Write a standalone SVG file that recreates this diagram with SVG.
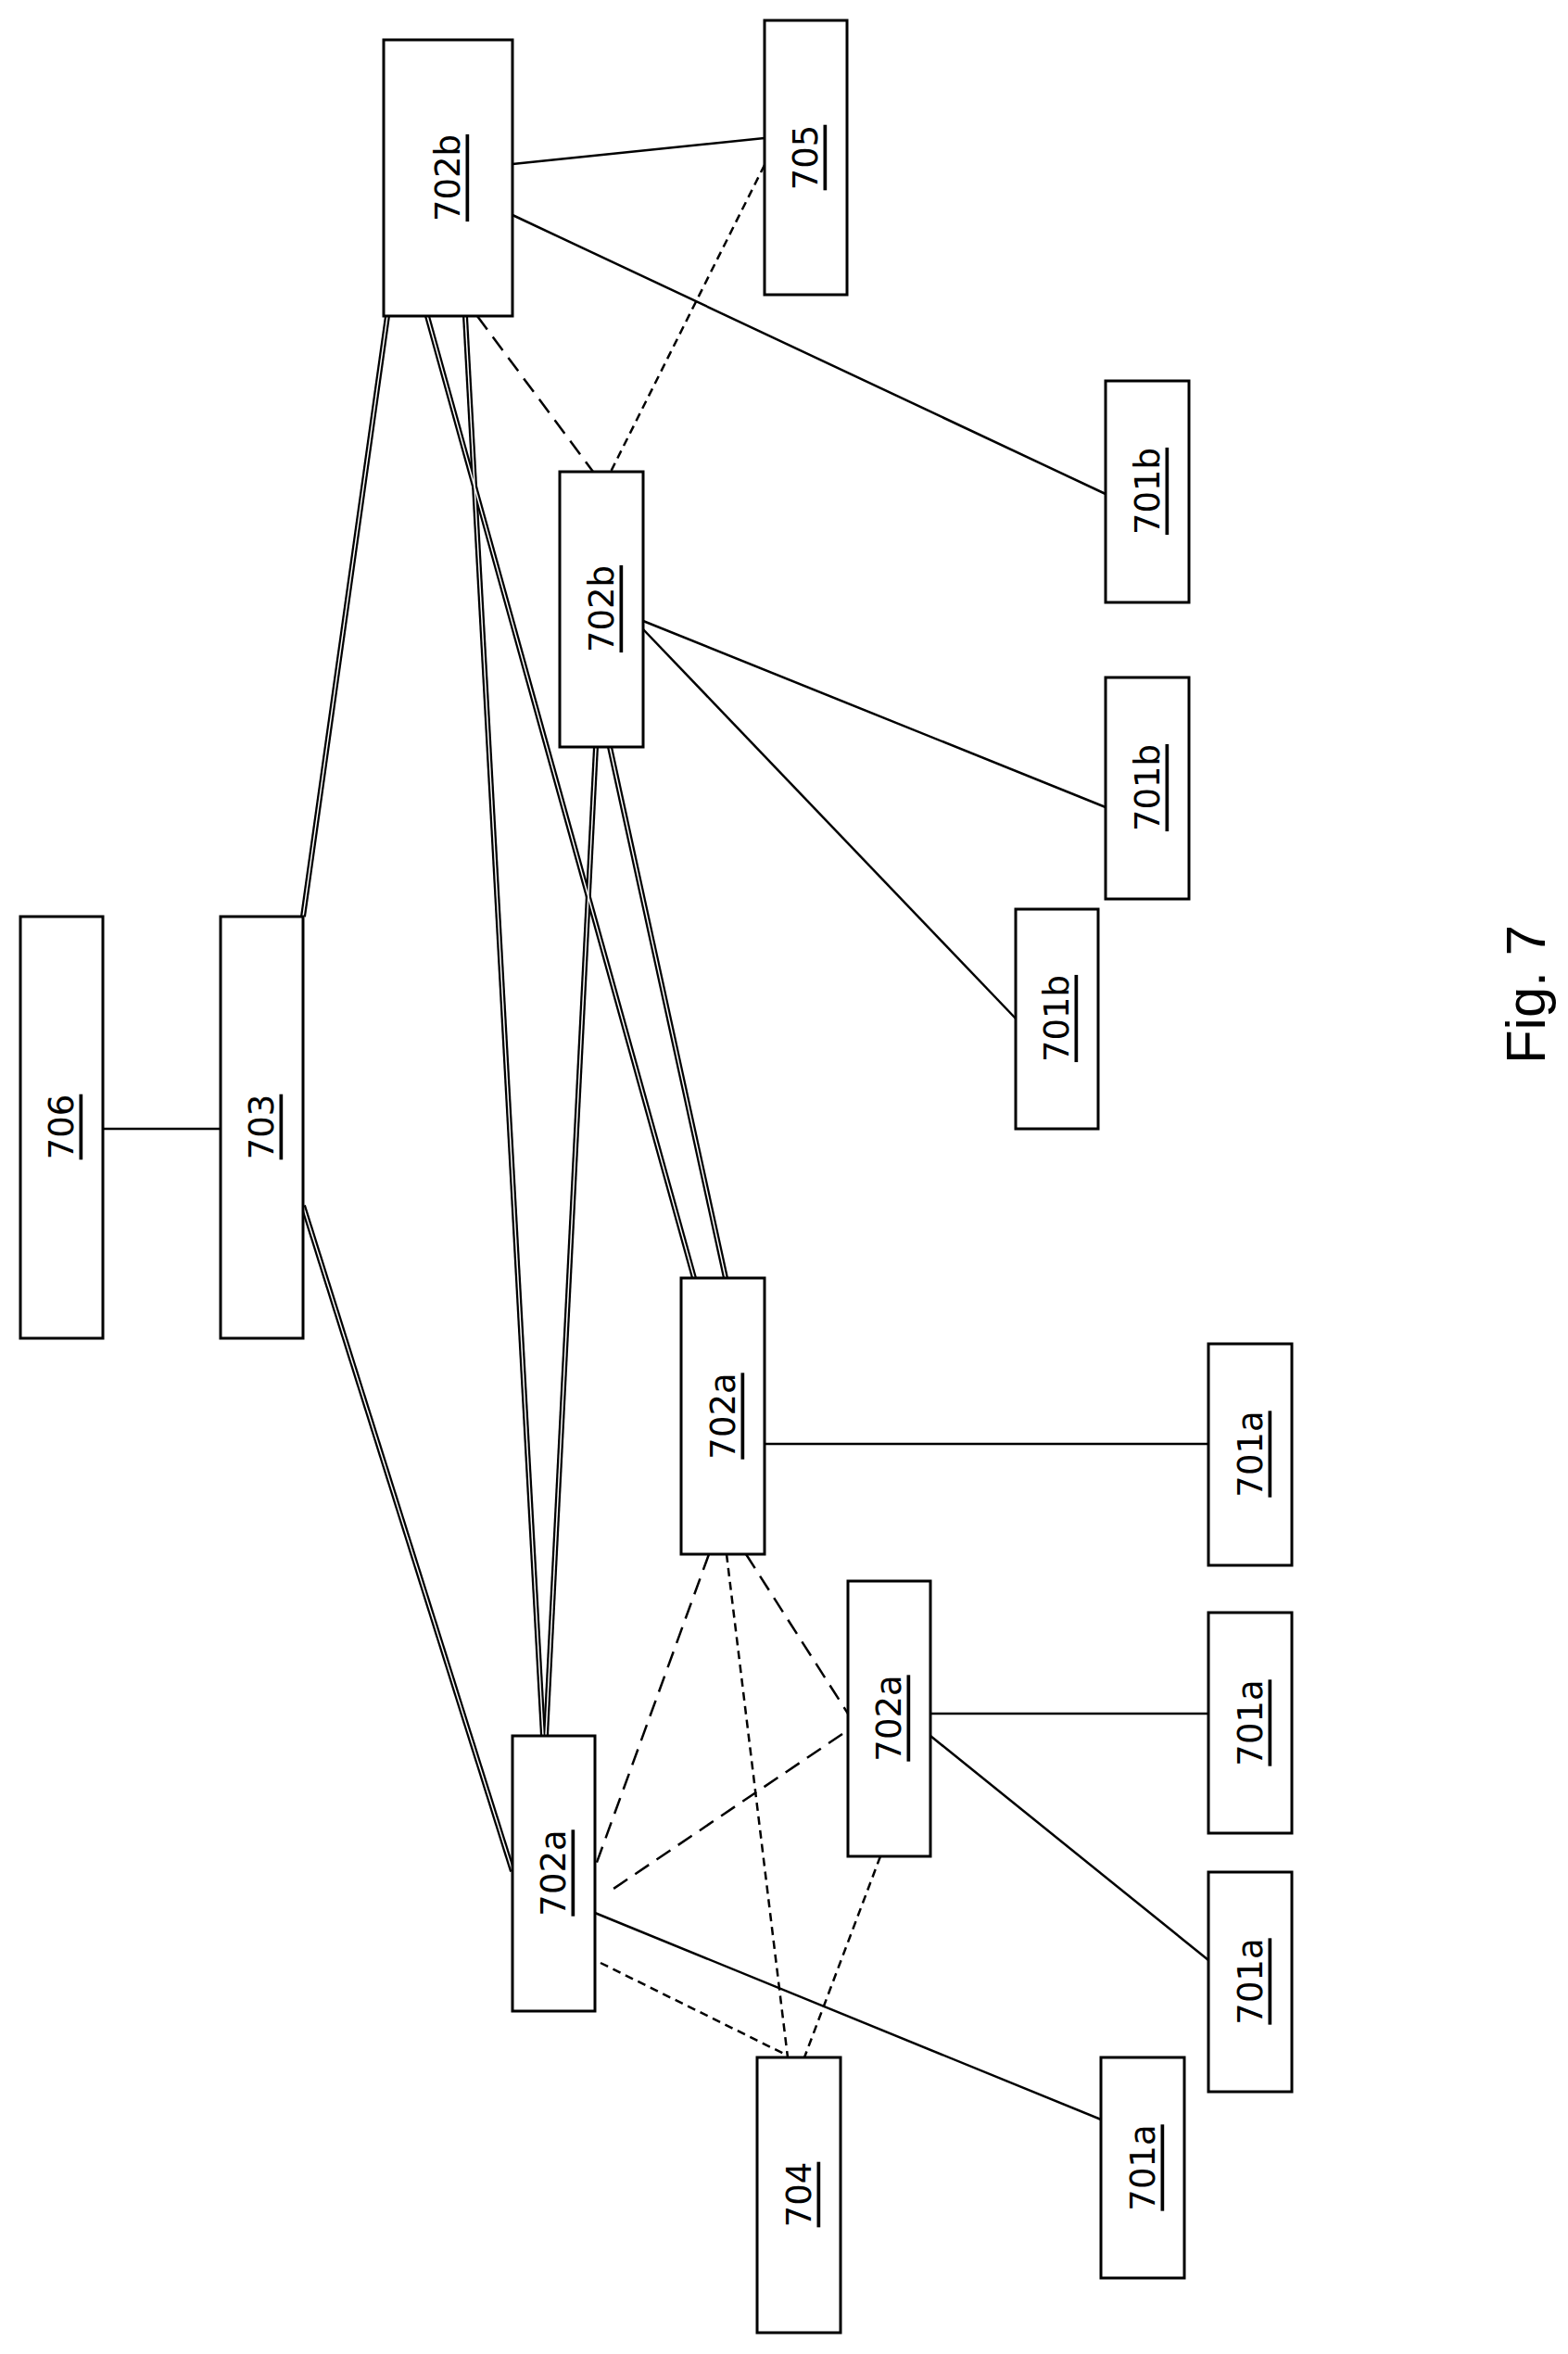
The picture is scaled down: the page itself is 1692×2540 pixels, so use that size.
<svg xmlns="http://www.w3.org/2000/svg" width="1692" height="2540" viewBox="0 0 1692 2540">
<style>
.b{fill:#fff;stroke:#000;stroke-width:3}
.t{font-family:"DejaVu Sans",sans-serif;font-size:37px;text-decoration:underline;text-anchor:middle;dominant-baseline:central}
.s{stroke:#000;stroke-width:2.5;fill:none}
.ld{stroke:#000;stroke-width:2.5;stroke-dasharray:18 10;fill:none}
.sd{stroke:#000;stroke-width:2.5;stroke-dasharray:9 6;fill:none}
.d1{stroke:#000;stroke-width:6;fill:none}
.d2{stroke:#fff;stroke-width:1.5;fill:none}
</style>
<rect width="1692" height="2540" fill="#fff"/>
<g id="connectors">
<line class="s" x1="111" y1="1218" x2="238" y2="1218"/>
<line class="s" x1="553" y1="177" x2="825" y2="149"/>
<line class="s" x1="553" y1="232" x2="1193" y2="533"/>
<line class="ld" x1="515" y1="341" x2="640" y2="509"/>
<line class="sd" x1="825" y1="178" x2="659" y2="509"/>
<line class="s" x1="694" y1="670" x2="1193" y2="871"/>
<line class="s" x1="694" y1="679" x2="1096" y2="1099"/>
<line class="s" x1="825" y1="1558" x2="1304" y2="1558"/>
<line class="s" x1="1004" y1="1849" x2="1304" y2="1849"/>
<line class="s" x1="1004" y1="1873" x2="1304" y2="2115"/>
<line class="s" x1="642" y1="2064" x2="1188" y2="2287"/>
<line class="ld" x1="765" y1="1677" x2="642" y2="2015"/>
<line class="ld" x1="805" y1="1677" x2="915" y2="1849"/>
<line class="sd" x1="784" y1="1677" x2="850" y2="2220"/>
<line class="ld" x1="909" y1="1871" x2="659" y2="2040"/>
<line class="sd" x1="950" y1="2003" x2="868" y2="2220"/>
<line class="sd" x1="648" y1="2118" x2="850" y2="2218"/>
<g class="d1">
<line x1="418" y1="341" x2="327" y2="989"/>
<line x1="327" y1="1301" x2="553" y2="2019"/>
<line x1="461" y1="341" x2="749" y2="1379"/>
<line x1="502" y1="341" x2="586" y2="1873"/>
<line x1="643" y1="806" x2="589" y2="1873"/>
<line x1="658" y1="806" x2="783" y2="1379"/>
</g>
<g class="d2">
<line x1="418" y1="341" x2="327" y2="989"/>
<line x1="327" y1="1301" x2="553" y2="2019"/>
<line x1="461" y1="341" x2="749" y2="1379"/>
<line x1="502" y1="341" x2="586" y2="1873"/>
<line x1="643" y1="806" x2="589" y2="1873"/>
<line x1="658" y1="806" x2="783" y2="1379"/>
</g>
</g>
<g id="n702b_1"><rect class="b" x="414" y="43" width="139" height="298"/><text class="t" transform="translate(483,192) rotate(-90)">702b</text></g>
<g id="n705"><rect class="b" x="825" y="22" width="89" height="296"/><text class="t" transform="translate(869,170) rotate(-90)">705</text></g>
<g id="n701b_1"><rect class="b" x="1193" y="411" width="90" height="239"/><text class="t" transform="translate(1238,530) rotate(-90)">701b</text></g>
<g id="n702b_2"><rect class="b" x="604" y="509" width="90" height="297"/><text class="t" transform="translate(649,657) rotate(-90)">702b</text></g>
<g id="n701b_2"><rect class="b" x="1193" y="731" width="90" height="239"/><text class="t" transform="translate(1238,850) rotate(-90)">701b</text></g>
<g id="n701b_3"><rect class="b" x="1096" y="981" width="89" height="237"/><text class="t" transform="translate(1140,1099) rotate(-90)">701b</text></g>
<g id="n706"><rect class="b" x="22" y="989" width="89" height="455"/><text class="t" transform="translate(66,1216) rotate(-90)">706</text></g>
<g id="n703"><rect class="b" x="238" y="989" width="89" height="455"/><text class="t" transform="translate(282,1216) rotate(-90)">703</text></g>
<g id="n702a_1"><rect class="b" x="735" y="1379" width="90" height="298"/><text class="t" transform="translate(780,1528) rotate(-90)">702a</text></g>
<g id="n701a_1"><rect class="b" x="1304" y="1450" width="90" height="239"/><text class="t" transform="translate(1349,1569) rotate(-90)">701a</text></g>
<g id="n702a_2"><rect class="b" x="915" y="1706" width="89" height="297"/><text class="t" transform="translate(959,1854) rotate(-90)">702a</text></g>
<g id="n701a_2"><rect class="b" x="1304" y="1740" width="90" height="238"/><text class="t" transform="translate(1349,1859) rotate(-90)">701a</text></g>
<g id="n702a_3"><rect class="b" x="553" y="1873" width="89" height="297"/><text class="t" transform="translate(597,2021) rotate(-90)">702a</text></g>
<g id="n701a_3"><rect class="b" x="1304" y="2020" width="90" height="237"/><text class="t" transform="translate(1349,2138) rotate(-90)">701a</text></g>
<g id="n704"><rect class="b" x="817" y="2220" width="90" height="297"/><text class="t" transform="translate(862,2368) rotate(-90)">704</text></g>
<g id="n701a_4"><rect class="b" x="1188" y="2220" width="90" height="238"/><text class="t" transform="translate(1233,2339) rotate(-90)">701a</text></g>
<text font-family="'Liberation Sans',Arial,sans-serif" font-size="60" text-anchor="middle" dominant-baseline="central" transform="translate(1646,1073) rotate(-90)">Fig. 7</text>
</svg>
